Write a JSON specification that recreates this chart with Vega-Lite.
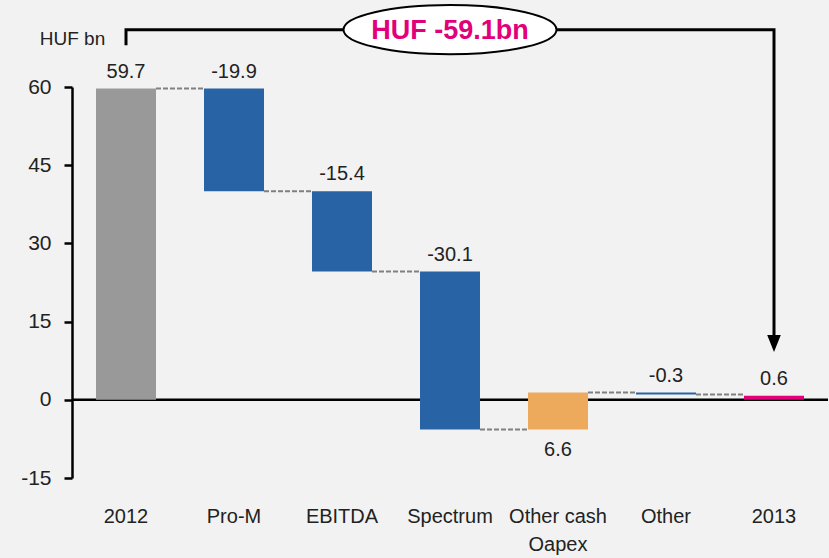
{
  "$schema": "https://vega.github.io/schema/vega-lite/v6.json",
  "width": 756,
  "height": 391,
  "autosize": {"type": "none"},
  "padding": {"left": 72, "top": 87, "right": 1, "bottom": 80},
  "background": "#F2F2F2",
  "config": {
    "view": {"stroke": null},
    "font": "Liberation Sans",
    "text": {"font": "Liberation Sans"}
  },
  "datasets": {
    "steps": [
      {"cat": "2012", "lo": 0, "hi": 59.7, "label": "59.7", "level": 59.7, "next": "Pro-M", "kind": "total"},
      {"cat": "Pro-M", "lo": 40.0, "hi": 59.7, "label": "-19.9", "level": 40.0, "next": "EBITDA", "kind": "neg"},
      {"cat": "EBITDA", "lo": 24.6, "hi": 40.0, "label": "-15.4", "level": 24.6, "next": "Spectrum", "kind": "neg"},
      {"cat": "Spectrum", "lo": -5.7, "hi": 24.6, "label": "-30.1", "level": -5.7, "next": "Other cash Oapex", "kind": "neg"},
      {"cat": "Other cash Oapex", "lo": -5.7, "hi": 1.4, "label": "6.6", "level": 1.4, "next": "Other", "kind": "pos"},
      {"cat": "Other", "lo": 1.0, "hi": 1.4, "label": "-0.3", "level": 1.0, "next": "2013", "kind": "neg"},
      {"cat": "2013", "lo": 0, "hi": 0.8, "label": "0.6", "level": null, "next": null, "kind": "end"}
    ],
    "zero": [{"v": 0}],
    "bracket": [
      {"cat": "2012", "v": 68.3, "ord": 1},
      {"cat": "2012", "v": 71.0, "ord": 2},
      {"cat": "2013", "v": 71.0, "ord": 3},
      {"cat": "2013", "v": 12.0, "ord": 4}
    ],
    "arrow": [{"cat": "2013", "v": 10.8}],
    "badge": [{"cat": "Spectrum", "v": 71.0, "text": "HUF -59.1bn"}]
  },
  "encoding": {
    "x": {
      "field": "cat",
      "type": "nominal",
      "scale": {
        "domain": ["2012", "Pro-M", "EBITDA", "Spectrum", "Other cash Oapex", "Other", "2013"],
        "paddingInner": 0.4444,
        "paddingOuter": 0.2222
      },
      "axis": {
        "title": null,
        "domain": false,
        "ticks": false,
        "labelAngle": 0,
        "labelFontSize": 20,
        "labelColor": "#222222",
        "labelPadding": 28,
        "labelLineHeight": 28,
        "labelExpr": "datum.value == 'Other cash Oapex' ? ['Other cash', 'Oapex'] : datum.value"
      }
    }
  },
  "layer": [
    {
      "data": {"name": "zero"},
      "mark": {"type": "rule", "color": "#000000", "strokeWidth": 2.5},
      "encoding": {"x": null, "y": {"field": "v", "type": "quantitative", "scale": {"domain": [-15, 60], "nice": false, "zero": false}}}
    },
    {
      "data": {"name": "steps"},
      "mark": {"type": "bar"},
      "encoding": {
        "y": {
          "field": "lo",
          "type": "quantitative",
          "scale": {"domain": [-15, 60], "nice": false, "zero": false},
          "axis": {
            "values": [-15, 0, 15, 30, 45, 60],
            "labelExpr": "replace(datum.label, '\u2212', '-')",
            "grid": false,
            "domainColor": "#000000",
            "domainWidth": 2.5,
            "tickColor": "#000000",
            "tickWidth": 2.5,
            "tickSize": 8,
            "labelFontSize": 21,
            "labelColor": "#222222",
            "labelPadding": 13,
            "title": "HUF bn",
            "titleAngle": 0,
            "titleFontSize": 19,
            "titleFontWeight": "normal",
            "titleColor": "#222222",
            "titleAlign": "center",
            "titleBaseline": "middle",
            "titleX": 0,
            "titleY": -49
          }
        },
        "y2": {"field": "hi"},
        "color": {
          "field": "kind",
          "type": "nominal",
          "scale": {"domain": ["total", "neg", "pos", "end"], "range": ["#999999", "#2763A5", "#EDAA5C", "#E2007A"]},
          "legend": null
        }
      }
    },
    {
      "data": {"name": "steps"},
      "transform": [{"filter": "datum.next != null"}],
      "mark": {"type": "rule", "color": "#808080", "strokeWidth": 2, "strokeDash": [5, 2]},
      "encoding": {
        "x": {"field": "cat", "type": "nominal", "bandPosition": 1},
        "x2": {"field": "next", "bandPosition": 0},
        "y": {"field": "level", "type": "quantitative"}
      }
    },
    {
      "data": {"name": "steps"},
      "transform": [{"filter": "datum.cat != 'Other cash Oapex'"}],
      "mark": {"type": "text", "fontSize": 20, "color": "#222222", "baseline": "middle", "dy": -17},
      "encoding": {
        "y": {"field": "hi", "type": "quantitative"},
        "text": {"field": "label"}
      }
    },
    {
      "data": {"name": "steps"},
      "transform": [{"filter": "datum.cat == 'Other cash Oapex'"}],
      "mark": {"type": "text", "fontSize": 20, "color": "#222222", "baseline": "middle", "dy": 20},
      "encoding": {
        "y": {"field": "lo", "type": "quantitative"},
        "text": {"field": "label"}
      }
    },
    {
      "data": {"name": "bracket"},
      "mark": {"type": "line", "color": "#000000", "strokeWidth": 3, "strokeCap": "square", "clip": false},
      "encoding": {
        "y": {"field": "v", "type": "quantitative"},
        "order": {"field": "ord", "type": "quantitative"}
      }
    },
    {
      "data": {"name": "arrow"},
      "mark": {"type": "point", "shape": "M-0.8,-1 L0.8,-1 L0,1 Z", "size": 289, "filled": true, "color": "#000000", "opacity": 1, "clip": false},
      "encoding": {
        "y": {"field": "v", "type": "quantitative"}
      }
    },
    {
      "data": {"name": "badge"},
      "mark": {"type": "point", "shape": "M-1,0 A1,0.231 0 1,1 1,0 A1,0.231 0 1,1 -1,0 Z", "size": 45369, "filled": false, "fill": "#FFFFFF", "fillOpacity": 1, "stroke": "#000000", "strokeWidth": 2, "opacity": 1, "clip": false},
      "encoding": {
        "y": {"field": "v", "type": "quantitative"}
      }
    },
    {
      "data": {"name": "badge"},
      "mark": {"type": "text", "fontSize": 27, "fontWeight": "bold", "color": "#E2007A", "baseline": "middle", "align": "center", "dy": 1, "clip": false},
      "encoding": {
        "y": {"field": "v", "type": "quantitative"},
        "text": {"field": "text"}
      }
    }
  ]
}
